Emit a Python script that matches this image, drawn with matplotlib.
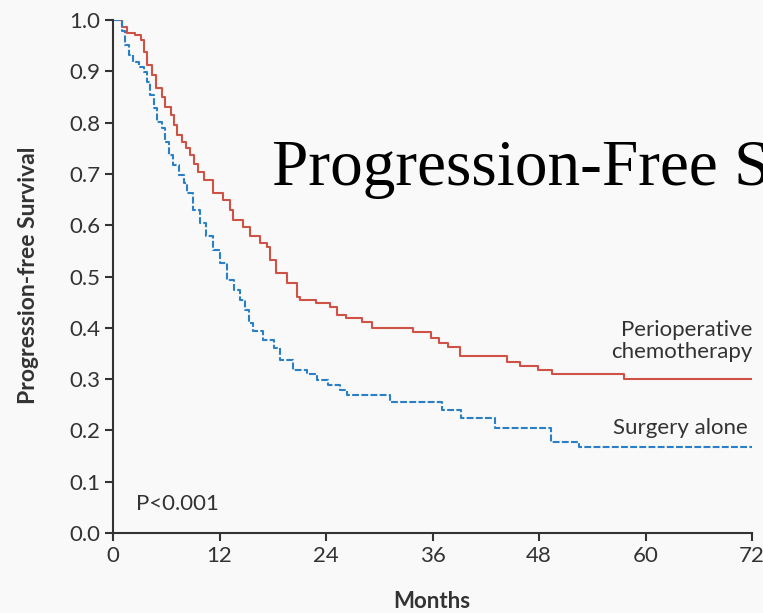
"""Kaplan-Meier style progression-free survival chart."""
import matplotlib
matplotlib.use("Agg")
import matplotlib.pyplot as plt

# perioperative chemotherapy arm (month where step starts, survival)
chemo_months = [0, 1.0, 1.6, 2.5, 3.1, 3.5, 3.8, 4.4, 4.9, 5.5, 5.9, 6.5, 6.9,
                7.2, 7.8, 8.2, 8.7, 9.1, 9.6, 10.2, 11.3, 12.4, 13.2, 13.5,
                14.7, 15.4, 16.6, 17.3, 17.7, 18.4, 19.6, 20.7, 21.1, 22.9,
                24.5, 25.2, 26.3, 28.1, 29.2, 33.8, 35.8, 36.7, 37.8, 39.1,
                44.4, 45.9, 47.9, 49.5, 57.6, 72]
chemo_surv = [1.0, 0.987, 0.974, 0.971, 0.961, 0.938, 0.912, 0.893, 0.867,
              0.85, 0.831, 0.815, 0.795, 0.776, 0.763, 0.75, 0.737, 0.72,
              0.704, 0.688, 0.662, 0.649, 0.63, 0.61, 0.597, 0.578, 0.565,
              0.558, 0.532, 0.506, 0.487, 0.461, 0.454, 0.448, 0.44, 0.425,
              0.419, 0.411, 0.40, 0.392, 0.38, 0.37, 0.363, 0.345, 0.333,
              0.326, 0.318, 0.31, 0.30, 0.30]

# surgery alone arm
surg_months = [0, 1.0, 1.4, 1.8, 2.3, 2.9, 3.5, 3.8, 4.2, 4.6, 5.0, 5.5, 5.9,
               6.3, 6.8, 7.4, 8.0, 8.3, 9.0, 9.8, 10.5, 11.3, 12.1, 12.8,
               13.6, 14.3, 14.9, 15.3, 15.8, 16.9, 18.1, 18.8, 20.3, 21.9,
               23.0, 24.2, 25.6, 26.4, 31.2, 37.1, 39.2, 43.0, 49.4, 52.5, 72]
surg_surv = [1.0, 0.978, 0.951, 0.932, 0.919, 0.909, 0.899, 0.88, 0.854,
             0.828, 0.802, 0.789, 0.763, 0.737, 0.717, 0.698, 0.682, 0.662,
             0.63, 0.604, 0.578, 0.552, 0.526, 0.493, 0.474, 0.454, 0.435,
             0.409, 0.393, 0.376, 0.36, 0.337, 0.318, 0.31, 0.298, 0.288,
             0.279, 0.269, 0.255, 0.24, 0.225, 0.205, 0.177, 0.167, 0.167]

x_ticks = [0, 12, 24, 36, 48, 60, 72]
y_ticks = [0.0, 0.1, 0.2, 0.3, 0.4, 0.5, 0.6, 0.7, 0.8, 0.9, 1.0]

RED = "#cf5246"
BLUE = "#2a80c6"
TXT = "#333333"
BG = "#f9f9f9"
FS = 16

plt.rcParams["font.family"] = ["Lato", "DejaVu Sans"]

fig = plt.figure(figsize=(7.63, 6.13), dpi=100, facecolor=BG)
ax = fig.add_axes([113 / 763, 80 / 613, (752 - 113) / 763, 513 / 613])
ax.set_facecolor(BG)

ax.step(chemo_months, chemo_surv, where="post", color=RED, lw=1.5)
ax.step(surg_months, surg_surv, where="post", color=BLUE, lw=1.5,
        linestyle=(0, (3.3, 1.1)))

ax.set_xlim(0, 72)
ax.set_ylim(0, 1.0)
ax.set_xticks(x_ticks)
ax.set_yticks(y_ticks)
ax.set_yticklabels([f"{v:.1f}" for v in y_ticks])
for s in ("top", "right"):
    ax.spines[s].set_visible(False)
for s in ("left", "bottom"):
    ax.spines[s].set_color("#333333")
    ax.spines[s].set_linewidth(1.5)
ax.tick_params(direction="out", length=6, width=1.5, color="#333333",
               labelsize=FS, labelcolor=TXT, pad=3)

ax.set_xlabel("Months", fontsize=FS, fontweight="bold", color=TXT, va="center")
ax.xaxis.set_label_coords(0.499, -0.1345)
ax.set_ylabel("Progression-free Survival", fontsize=16.5, fontweight="bold",
              color=TXT, va="center")
ax.yaxis.set_label_coords(-0.133, 0.503)

ax.text(2.6, 0.0565, "P<0.001", fontsize=FS, color=TXT, va="center")
ax.text(72, 0.374, "Perioperative\nchemotherapy", fontsize=FS, color=TXT,
        ha="right", va="center", linespacing=1.12)
ax.text(71.55, 0.205, "Surgery alone", fontsize=FS, color=TXT,
        ha="right", va="center")

fig.text(272 / 763, 1 - 185 / 613, "Progression-Free Survival",
         family="Liberation Serif", fontsize=47, color="black",
         ha="left", va="baseline")

fig.savefig("out.png", dpi=100, facecolor=BG)
